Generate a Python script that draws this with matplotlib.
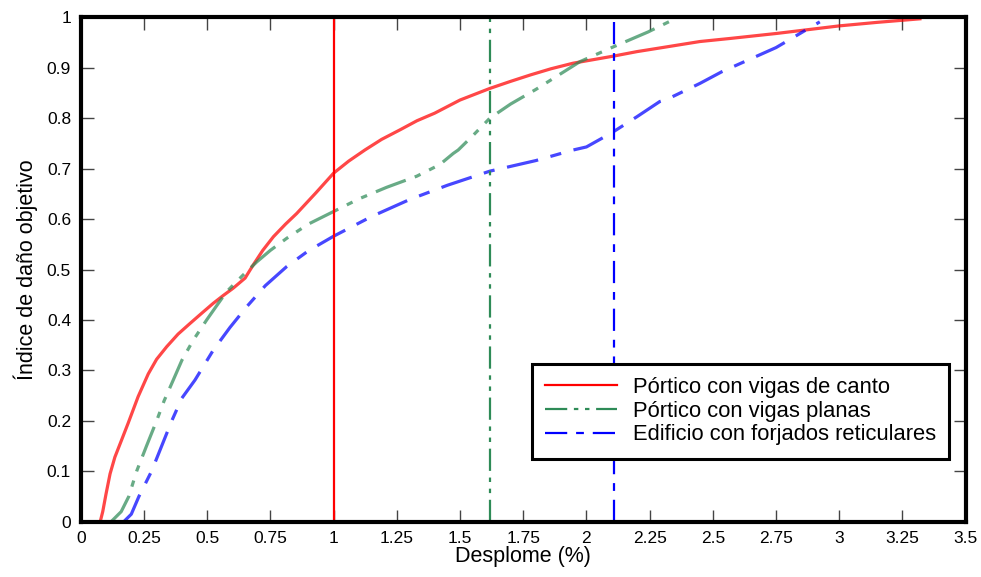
import matplotlib.pyplot as plt

plt.rcParams['font.family'] = ['Liberation Sans', 'DejaVu Sans']

# Curves
canto_x = [0.077, 0.087, 0.1, 0.116, 0.135, 0.16, 0.188, 0.227, 0.267, 0.30, 0.34, 0.385, 0.432,
           0.48, 0.524, 0.565, 0.603, 0.65, 0.682, 0.72, 0.762, 0.81, 0.854, 0.93, 1.0, 1.06,
           1.124, 1.19, 1.263, 1.33, 1.4, 1.5, 1.618, 1.7, 1.78, 1.86, 1.947, 2.106, 2.2, 2.3,
           2.449, 2.567, 2.752, 3.0, 3.15, 3.319]
canto_y = [0.0, 0.02, 0.055, 0.095, 0.128, 0.16, 0.196, 0.248, 0.293, 0.322, 0.347, 0.372,
           0.393, 0.414, 0.433, 0.449, 0.463, 0.483, 0.509, 0.538, 0.565, 0.59, 0.611, 0.652,
           0.691, 0.715, 0.737, 0.758, 0.777, 0.795, 0.81, 0.836, 0.859, 0.873, 0.886, 0.898,
           0.909, 0.923, 0.932, 0.94, 0.952, 0.958, 0.968, 0.983, 0.99, 0.997]

planas_x = [0.12, 0.16, 0.19, 0.221, 0.26, 0.30, 0.33, 0.366, 0.40, 0.445, 0.498, 0.54, 0.577,
            0.64, 0.696, 0.75, 0.815, 0.9, 1.0, 1.1, 1.21, 1.329, 1.42, 1.473, 1.493, 1.55,
            1.618, 1.7, 1.8, 1.974, 2.10, 2.244, 2.35]
planas_y = [0.0, 0.02, 0.05, 0.1, 0.15, 0.2, 0.24, 0.281, 0.32, 0.36, 0.40, 0.43, 0.456,
            0.488, 0.515, 0.538, 0.562, 0.59, 0.615, 0.64, 0.663, 0.685, 0.708, 0.73, 0.737,
            0.765, 0.80, 0.828, 0.857, 0.912, 0.94, 0.971, 0.997]

reticular_x = [0.17, 0.2, 0.23, 0.28, 0.32, 0.36, 0.40, 0.452, 0.524, 0.59, 0.656, 0.73, 0.815,
               0.9, 1.0, 1.15, 1.302, 1.45, 1.618, 1.8, 1.948, 2.0, 2.10, 2.2, 2.29, 2.317,
               2.449, 2.535, 2.75, 2.923]
reticular_y = [0.0, 0.015, 0.05, 0.1, 0.15, 0.2, 0.245, 0.281, 0.34, 0.385, 0.426, 0.468, 0.506,
               0.537, 0.566, 0.605, 0.639, 0.667, 0.695, 0.716, 0.737, 0.743, 0.771, 0.803,
               0.833, 0.837, 0.869, 0.892, 0.94, 0.991]

# Vertical reference lines
limite_x = [1.0, 1.618, 2.11]

labels = ['Pórtico con vigas de canto', 'Pórtico con vigas planas',
          'Edificio con forjados reticulares']
colors = ['#ff0000', '#2e8b57', '#0000ff']
styles = ['-', (0, (10, 3, 2, 3, 2, 3)), (0, (10, 4, 3.5, 4))]

x_ticks = [0, 0.25, 0.5, 0.75, 1, 1.25, 1.5, 1.75, 2, 2.25, 2.5, 2.75, 3, 3.25, 3.5]
x_labels = ['0', '0.25', '0.5', '0.75', '1', '1.25', '1.5', '1.75', '2', '2.25', '2.5',
            '2.75', '3', '3.25', '3.5']
y_ticks = [0, 0.1, 0.2, 0.3, 0.4, 0.5, 0.6, 0.7, 0.8, 0.9, 1]
y_labels = ['0', '0.1', '0.2', '0.3', '0.4', '0.5', '0.6', '0.7', '0.8', '0.9', '1']

fig = plt.figure(figsize=(9.81, 5.77), dpi=100)
ax = fig.add_axes([0.0823, 0.0958, 0.9021, 0.8742])

curves = [(canto_x, canto_y), (planas_x, planas_y), (reticular_x, reticular_y)]
for (cx, cy), c, ls in zip(curves, colors, styles):
    ax.plot(cx, cy, color=c, linestyle=ls, linewidth=2.3, alpha=0.72)

for xv, c, ls, lab in zip(limite_x, colors, styles, labels):
    ax.plot([xv, xv], [0, 1], color=c, linestyle=ls, linewidth=1.6, label=lab)

ax.set_xlim(0, 3.5)
ax.set_ylim(0, 1)
ax.set_xticks(x_ticks)
ax.set_xticklabels(x_labels)
ax.set_yticks(y_ticks)
ax.set_yticklabels(y_labels)
ax.tick_params(direction='in', length=9, width=1, color='#444444', labelsize=12.5,
               top=True, right=True, pad=7)
for sp in ax.spines.values():
    sp.set_linewidth(3)

ax.set_xlabel('Desplome (%)', fontsize=15.5, labelpad=0)
ax.set_ylabel('Índice de daño objetivo', fontsize=15.5, labelpad=6)

leg = ax.legend(loc='upper left', bbox_to_anchor=(0.5096, 0.3127), borderaxespad=0,
                fontsize=15.8, handlelength=3.3, fancybox=False, framealpha=1,
                edgecolor='black', labelspacing=0.12, borderpad=0.6, handletextpad=0.7)
leg.get_frame().set_linewidth(2.2)

fig.savefig('out.png', dpi=100)
